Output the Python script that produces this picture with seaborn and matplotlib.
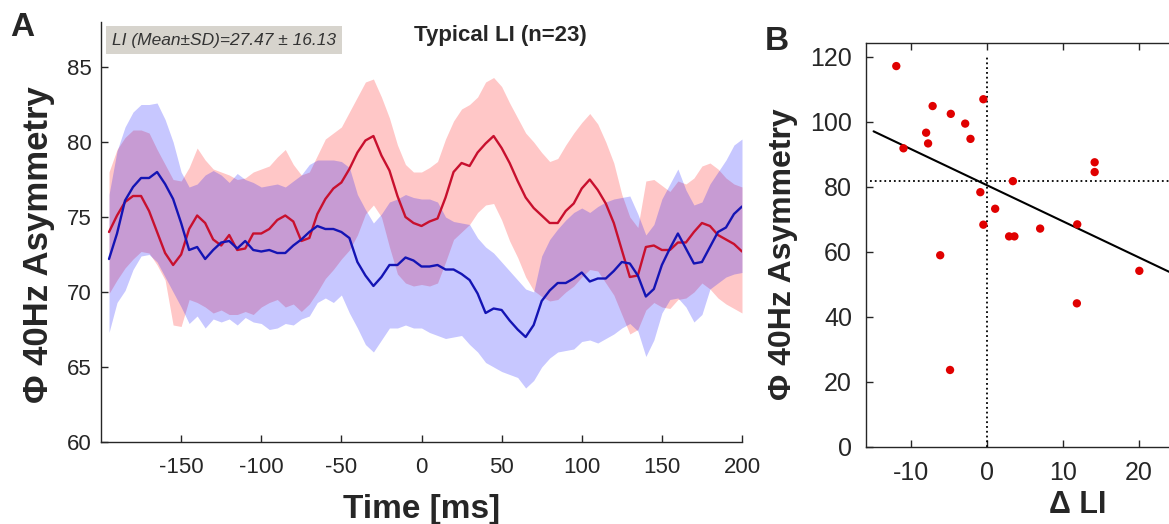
import numpy as np
import pandas as pd
import matplotlib
matplotlib.use("Agg")
import matplotlib.pyplot as plt
import seaborn as sns

# ---- panel A: time courses (mean and mean +/- SD) ----
time_ms = list(range(-195, 201, 5))

red_mean = [74.0, 75.1, 76.0, 76.4, 76.4, 75.4, 74.0, 72.6, 71.8, 72.5,
            74.2, 75.1, 74.6, 73.5, 73.1, 73.8, 72.8, 72.9, 73.9, 73.9,
            74.2, 74.8, 75.1, 74.7, 73.4, 73.6, 75.2, 76.2, 76.9, 77.3,
            78.2, 79.3, 80.1, 80.4, 79.1, 78.1, 76.4, 75.0, 74.6, 74.4,
            74.7, 74.9, 76.3, 78.0, 78.6, 78.4, 79.3, 79.9, 80.4, 79.6,
            78.6, 77.4, 76.3, 75.6, 75.1, 74.6, 74.6, 75.4, 75.9, 76.9,
            77.5, 76.8, 75.9, 74.6, 72.8, 71.0, 71.1, 73.0, 73.1, 72.8,
            72.8, 73.3, 73.3, 74.0, 74.6, 74.4, 73.8, 73.5, 73.2, 72.7]
red_upper = [78.0, 79.5, 80.3, 80.8, 80.8, 80.6, 79.5, 78.5, 77.5, 77.4,
             78.3, 79.6, 78.8, 78.2, 78.0, 77.8, 77.5, 77.6, 78.0, 78.2,
             78.4, 79.0, 79.5, 78.5, 77.8, 78.0, 79.1, 80.2, 80.6, 81.0,
             82.0, 83.0, 84.0, 84.2, 83.0, 81.6, 79.8, 78.5, 78.0, 78.0,
             78.3, 78.7, 80.2, 81.4, 82.2, 82.5, 83.0, 84.0, 84.3, 83.7,
             82.6, 81.6, 80.6, 80.0, 79.3, 78.7, 78.9, 79.8, 80.6, 81.3,
             81.9, 81.2, 80.0, 78.6, 76.5, 75.0, 74.3, 77.4, 77.5, 77.1,
             76.7, 77.4, 77.2, 77.6, 78.4, 78.6, 78.2, 77.6, 77.2, 77.0]
red_lower = [69.9, 70.8, 71.6, 72.2, 72.7, 72.6, 71.8, 70.8, 67.8, 67.7,
             69.5, 69.3, 69.0, 68.6, 68.8, 68.5, 68.5, 68.7, 68.5, 69.0,
             69.3, 69.5, 69.0, 69.2, 68.7, 69.2, 70.0, 70.9, 71.5, 72.2,
             72.8, 73.8, 75.2, 75.8, 75.0, 73.0, 71.2, 70.6, 70.4, 70.5,
             70.4, 70.6, 72.0, 73.5, 74.0, 74.5, 75.3, 75.8, 75.9, 74.8,
             73.4, 72.3, 71.0, 70.1, 69.7, 69.4, 69.5, 70.0, 70.4, 71.0,
             71.5, 71.4, 70.6, 69.8, 68.5, 67.2, 67.5, 68.8, 69.3, 69.0,
             68.9, 69.5, 69.6, 70.0, 70.6, 70.2, 69.6, 69.2, 68.9, 68.6]

blue_mean = [72.2, 73.9, 76.1, 77.0, 77.6, 77.6, 78.0, 77.2, 76.2, 74.6,
             72.8, 73.0, 72.2, 72.8, 73.3, 73.4, 72.9, 73.4, 72.8, 72.7,
             72.8, 72.6, 72.6, 73.1, 73.5, 74.0, 74.4, 74.2, 74.2, 74.0,
             73.6, 72.0, 71.1, 70.4, 71.0, 71.8, 71.8, 72.3, 72.1, 71.7,
             71.7, 71.8, 71.5, 71.5, 71.2, 70.8, 69.9, 68.6, 68.9, 68.8,
             68.1, 67.5, 67.0, 67.8, 69.4, 70.1, 70.6, 70.6, 70.9, 71.3,
             70.7, 70.9, 70.9, 71.4, 72.0, 71.9, 71.1, 69.7, 70.2, 71.8,
             72.9, 73.9, 72.9, 71.9, 72.0, 73.0, 74.0, 74.3, 75.2, 75.7]
blue_upper = [76.5, 79.4, 81.0, 82.0, 82.5, 82.5, 82.6, 81.5, 80.0, 78.0,
              77.0, 77.2, 77.8, 78.1, 77.8, 77.3, 77.9, 77.5, 77.3, 77.0,
              77.1, 77.2, 77.0, 77.4, 77.8, 78.5, 78.8, 78.8, 78.8, 78.7,
              78.3, 76.5, 75.5, 74.6, 75.2, 76.0, 76.2, 76.5, 76.3, 76.2,
              76.2, 76.0, 75.0, 74.7, 74.6, 74.5, 73.6, 73.0, 72.6, 72.0,
              71.4, 70.8, 70.2, 70.0, 72.4, 73.5, 74.2, 74.8, 75.3, 75.6,
              75.3, 75.7, 76.0, 76.2, 76.3, 76.4, 75.2, 73.8, 74.5, 76.2,
              77.2, 78.2, 76.8, 75.8, 76.0, 77.2, 78.0, 78.8, 79.8, 80.2]
blue_lower = [67.3, 69.3, 70.1, 71.5, 72.4, 72.5, 72.0, 71.0, 70.0, 69.0,
              67.9, 68.4, 67.6, 68.2, 68.0, 68.2, 67.8, 68.3, 68.0, 67.9,
              67.5, 67.6, 67.9, 67.8, 68.2, 68.4, 69.3, 69.6, 69.3, 69.8,
              68.6, 67.6, 66.5, 66.0, 66.8, 67.6, 67.6, 67.8, 67.6, 67.6,
              67.3, 67.1, 66.9, 67.0, 67.1, 66.5, 66.0, 65.3, 65.0, 64.7,
              64.5, 64.3, 63.6, 64.1, 65.0, 65.6, 66.0, 66.1, 66.2, 66.7,
              66.8, 66.6, 66.9, 67.2, 67.6, 67.9, 67.4, 65.7, 66.8, 68.6,
              69.5, 69.6, 69.0, 68.0, 68.5, 70.2, 70.6, 71.0, 71.2, 71.3]

# ---- panel B: scatter of delta LI vs asymmetry ----
delta_li = [-12.0, -11.05, -7.2, -8.06, -7.8, -4.8, -2.9, -2.2, -0.5, -0.9,
            -0.5, 1.06, 3.4, 2.9, 3.6, 7.0, 11.9, 14.2, 14.2, -6.2,
            20.1, 11.85, -4.9]
asym_b = [117.2, 91.9, 104.9, 96.7, 93.4, 102.5, 99.5, 94.8, 107.0, 78.4,
          68.4, 73.3, 81.8, 64.8, 64.8, 67.2, 68.5, 87.6, 84.6, 59.0,
          54.2, 44.2, 23.7]
asym_ref = 81.8

li_text = "LI (Mean\u00b1SD)=27.47 \u00b1 16.13"
title_a = "Typical LI (n=23)"
ylabel = "\u03a6 40Hz Asymmetry"

df_a = pd.DataFrame({"time": time_ms,
                     "red": red_mean, "red_hi": red_upper, "red_lo": red_lower,
                     "blue": blue_mean, "blue_hi": blue_upper, "blue_lo": blue_lower})
df_b = pd.DataFrame({"dli": delta_li, "asym": asym_b})

sns.set_style("ticks")
plt.rcParams['font.family'] = ['Liberation Sans', 'DejaVu Sans']
plt.rcParams['axes.unicode_minus'] = False
plt.rcParams['axes.linewidth'] = 1.0
plt.rcParams['axes.edgecolor'] = '#262626'

fig = plt.figure(figsize=(11.69, 5.24), dpi=100)
W, H = 1169, 524

# ---------------- panel A ----------------
ax = fig.add_axes([101 / W, 82 / H, 641 / W, 420 / H])
ax.fill_between(df_a["time"], df_a["red_lo"], df_a["red_hi"],
                color=(1, 0, 0), alpha=0.22, linewidth=0)
ax.fill_between(df_a["time"], df_a["blue_lo"], df_a["blue_hi"],
                color=(0, 0, 1), alpha=0.22, linewidth=0)
sns.lineplot(data=df_a, x="time", y="red", color="#c8102e", lw=1.7, ax=ax)
sns.lineplot(data=df_a, x="time", y="blue", color="#1414b4", lw=1.7, ax=ax)

ax.set_xlim(-200, 200)
ax.set_ylim(60, 88)
ax.set_xticks([-150, -100, -50, 0, 50, 100, 150, 200])
ax.set_yticks([60, 65, 70, 75, 80, 85])
ax.tick_params(direction="in", length=5, width=1.0, labelsize=16,
               colors="#262626")
ax.tick_params(axis="x", pad=11)
ax.tick_params(axis="y", pad=7)
sns.despine(ax=ax)
ax.set_xlabel("Time [ms]", fontsize=24, fontweight="bold", labelpad=11)
ax.set_ylabel(ylabel, fontsize=25, fontweight="bold")
ax.yaxis.set_label_coords(-0.072, 0.47)

ax.text(224 / W, 1 - 40 / H, li_text, transform=fig.transFigure,
        ha="center", va="center", fontsize=12.5, style="italic", color="#333333",
        bbox=dict(boxstyle="square,pad=0.35", facecolor="#d7d4cd", edgecolor="none"))
fig.text(500 / W, 1 - 36 / H, title_a, ha="center", va="center",
         fontsize=16, fontweight="bold")
fig.text(10 / W, 1 - 28 / H, "A", ha="left", va="center",
         fontsize=24, fontweight="bold")

# ---------------- panel B ----------------
bx = fig.add_axes([866 / W, 77 / H, 424 / W, 404 / H])
bx.set_xlim(-15, 40)
sns.regplot(data=df_b, x="dli", y="asym", ci=None, scatter=False, truncate=False,
            line_kws=dict(color="black", lw=1.5), ax=bx)
bx.vlines(0, 0, 120, colors="black", linestyles=":", lw=1.3)
bx.hlines(asym_ref, -15.5, 40, colors="black", linestyles=":", lw=1.3)
sns.scatterplot(data=df_b, x="dli", y="asym", color="#e00000", s=36,
                edgecolor="none", ax=bx, zorder=3)
bx.set_xlim(-16, 40)
bx.set_ylim(0, 124.3)
bx.set_xticks([-10, 0, 10, 20])
bx.set_yticks([0, 20, 40, 60, 80, 100, 120])
bx.tick_params(direction="in", length=5, width=1.0, labelsize=18,
               colors="#262626", pad=10, top=True)
bx.set_xlabel("\u0394 LI", fontsize=22, fontweight="bold", labelpad=4)
bx.set_ylabel(ylabel, fontsize=23, fontweight="bold")
bx.yaxis.set_label_coords(-0.16, 0.478)
fig.text(765 / W, 1 - 42 / H, "B", ha="left", va="center",
         fontsize=24, fontweight="bold")

fig.savefig("out.png", dpi=100)
